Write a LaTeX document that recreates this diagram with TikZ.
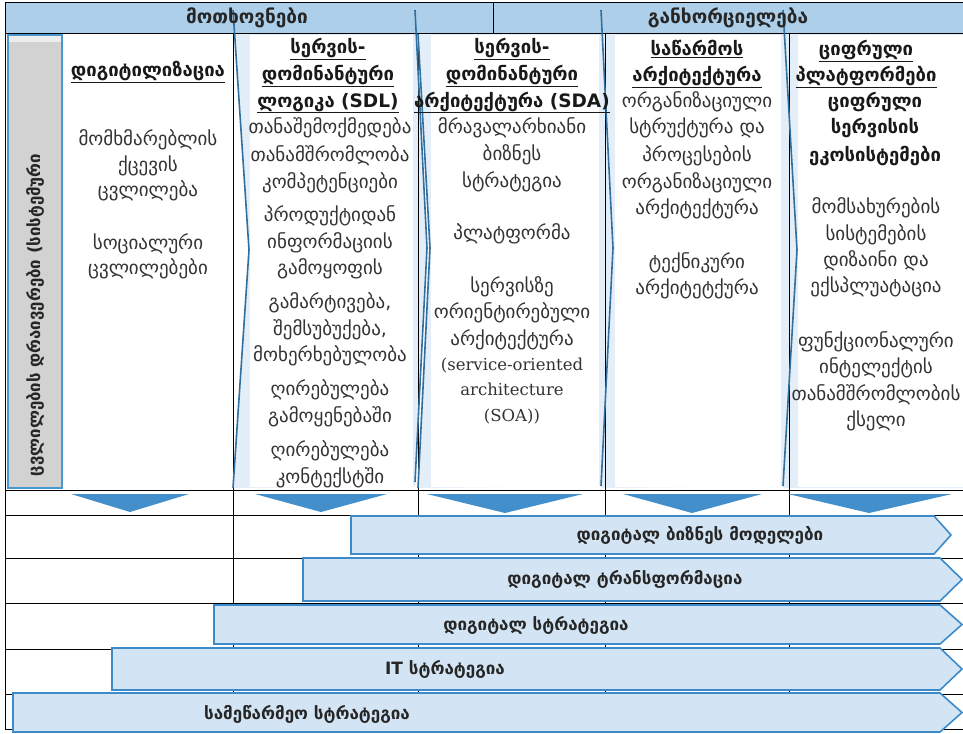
\documentclass[tikz,border=0pt]{standalone}
\usepackage{fontspec}
\setmainfont{DejaVu Sans}
\newfontfamily\latserif{DejaVu Serif}
\definecolor{hdr}{HTML}{ADCFEA}
\definecolor{chevfill}{HTML}{E4EEF8}
\definecolor{chevline}{HTML}{31709E}
\definecolor{greybar}{HTML}{D2D2D2}
\definecolor{barline}{HTML}{4A97D0}
\definecolor{tri}{HTML}{438FCC}
\definecolor{arrfill}{HTML}{D3E5F4}
\definecolor{arrline}{HTML}{3D8ACB}
\definecolor{txt}{HTML}{333333}
\tikzset{
  body/.style={anchor=base, inner sep=0pt, font=\fontsize{19}{22}\selectfont, text=txt},
  ttl/.style={anchor=base, inner sep=0pt, font=\bfseries\fontsize{18.5}{22}\selectfont, text=black!90},
  hdrtext/.style={inner sep=0pt, font=\bfseries\fontsize{19}{22}\selectfont, text=black!85},
  arrtext/.style={inner sep=0pt, font=\bfseries\fontsize{17}{20}\selectfont, text=black!85},
  chevshape/.style={fill=chevfill},
  chevedge/.style={draw=chevline, line width=1.6pt, line join=miter},
  tline/.style={draw=black, line width=0.7pt},
  arrshape/.style={fill=arrfill, draw=arrline, line width=1.6pt},
  trishape/.style={fill=tri},
}
\begin{document}
\begin{tikzpicture}[x=1pt,y=-1pt]
\useasboundingbox (0,0) rectangle (963,733);
\fill[white] (0,0) rectangle (963,733);
% chevron fills
\fill[chevshape] (233,10) -- (415,10) -- (427,248) -- (415,486) -- (233,488) -- (249,250) -- cycle;
\fill[chevshape] (417,10) -- (601,10) -- (613,248) -- (601,486) -- (417,488) -- (429,248) -- cycle;
\fill[chevshape] (601,10) -- (783,10) -- (797,248) -- (783,486) -- (601,488) -- (614,248) -- cycle;
\fill[chevshape] (783,10) -- (963,10) -- (963,488) -- (783,488) -- (797,250) -- cycle;
% white text boxes
\fill[white] (250,35) rectangle (413,487);
\fill[white] (431,35) rectangle (599,487);
\fill[white] (615,35) rectangle (781,487);
\fill[white] (798,35) rectangle (963,487);
% header
\fill[hdr] (5,2) rectangle (963,33);
\draw[tline] (5,2) -- (963,2);
\draw[tline] (5,33) -- (963,33);
\draw[tline] (493,2) -- (493,33);
% table lines
\draw[tline] (5,2) -- (5,729);
\foreach \xx in {233,418,605,789} \draw[tline] (\xx,33) -- (\xx,729);
\foreach \yy in {490,515,558,603,649,694,729} \draw[tline] (5,\yy) -- (963,\yy);
% chevron outlines
\draw[chevedge] (233,10) -- (249,250) -- (233,488);
\draw[chevedge] (415,10) -- (427,248) -- (415,482);
\draw[chevedge] (418,34) -- (430,248) -- (418,488);
\draw[chevedge] (601,10) -- (613,248) -- (601,486);
\draw[chevedge] (783,10) -- (797,250) -- (783,486);
% grey bar
\draw[fill=greybar, draw=barline, line width=1.6pt] (8,35) rectangle (62,488);
\fill[white!60!greybar] (9,36) rectangle (61,42);
% header texts
\node[hdrtext] (h1) at (247,18) {მოთხოვნები};
\node[hdrtext] (h2) at (728,18) {განხორციელება};
% vertical label
\node[inner sep=0pt, rotate=90, font=\bfseries\fontsize{16.8}{20}\selectfont, text=black!85] (drv) at (35,315) {ცვლილების დრაივერები (სისტემური};
% column 1
\node[ttl] (c1t) at (148,77) {\underline{დიგიტილიზაცია}};
\foreach \y/\t [count=\i] in {140/მომხმარებლის,165/ქცევის,190/ცვლილება,243/სოციალური,268/ცვლილებები}
  \node[body, name=c1b\i] at (148,{\y+6}) {\t};
% column 2
\foreach \y/\t [count=\i] in {48/სერვის-,75/დომინანტური,101/ლოგიკა (SDL)}
  \node[ttl, name=c2t\i] at (328,{\y+6}) {\underline{\t}};
\foreach \y/\t [count=\i] in {128/თანაშემოქმედება,155/თანამშრომლობა,182/კომპეტენციები,215/პროდუქტიდან,242/ინფორმაციის,268/გამოყოფის,302/{გამარტივება,},329/{შემსუბუქება,},355/მოხერხებულობა,389/ღირებულება,416/გამოყენებაში,450/ღირებულება,477/კონტექსტში}
  \node[body, name=c2b\i] at (330,{\y+6}) {\t};
% column 3
\foreach \y/\t [count=\i] in {48/სერვის-,75/დომინანტური,101/არქიტექტურა (SDA)}
  \node[ttl, name=c3t\i] at (512,{\y+6}) {\underline{\t}};
\foreach \y/\t [count=\i] in {127/მრავალარხიანი,154/ბიზნეს,181/სტრატეგია,233/პლატფორმა,286/სერვისზე,312/ორიენტირებული,339/არქიტექტურა/}
  \node[body, name=c3b\i] at (512,{\y+6}) {\t};
\foreach \y/\t [count=\i] in {364/(service-oriented,389/architecture,415/(SOA))}
  \node[body, font=\latserif\fontsize{16.5}{19}\selectfont, name=c3l\i] at (512,{\y+6}) {\t};
% column 4
\foreach \y/\t [count=\i] in {50/საწარმოს,76/არქიტექტურა}
  \node[ttl, name=c4t\i] at (697,{\y+6}) {\underline{\t}};
\foreach \y/\t [count=\i] in {102/ორგანიზაციული,128/სტრუქტურა და,155/პროცესების,182/ორგანიზაციული,208/არქიტექტურა,262/ტექნიკური,288/არქიტეტქურა}
  \node[body, name=c4b\i] at (697,{\y+6}) {\t};
% column 5
\foreach \y/\t [count=\i] in {50/ციფრული,76/პლატფორმები}
  \node[ttl, name=c5t\i] at (866,{\y+6}) {\underline{\t}};
\foreach \y/\t [count=\i] in {102/ციფრული,128/სერვისის,155/ეკოსისტემები}
  \node[ttl, name=c5s\i] at (875,{\y+6}) {\t};
\foreach \y/\t [count=\i] in {207/მომსახურების,234/სისტემების,260/დიზაინი და,286/ექსპლუატაცია,341/ფუნქციონალური,367/ინტელექტის,394/თანამშრომლობის,420/ქსელი}
  \node[body, name=c5b\i] at (876,{\y+6}) {\t};
% triangles
\fill[trishape] (71,494) -- (189,494) -- (130,512) -- cycle;
\fill[trishape] (255,494) -- (387,494) -- (321,512) -- cycle;
\fill[trishape] (427,494) -- (583,494) -- (505,513) -- cycle;
\fill[trishape] (623,494) -- (762,494) -- (692,513) -- cycle;
\fill[trishape] (788,494) -- (952,494) -- (869,513) -- cycle;
% arrows
\draw[arrshape] (351,516) -- (934,516) -- (951,535) -- (934,554) -- (351,554) -- cycle;
\draw[arrshape] (303,558) -- (940,558) -- (962,579.5) -- (940,601) -- (303,601) -- cycle;
\draw[arrshape] (214,605) -- (940,605) -- (962,624.5) -- (940,644) -- (214,644) -- cycle;
\draw[arrshape] (112,648) -- (940,648) -- (962,669) -- (940,690) -- (112,690) -- cycle;
\draw[arrshape] (13,693) -- (940,693) -- (962,712.5) -- (940,732) -- (13,732) -- cycle;
\node[arrtext] (a1) at (700,535) {დიგიტალ ბიზნეს მოდელები};
\node[arrtext] (a2) at (625,579) {დიგიტალ ტრანსფორმაცია};
\node[arrtext] (a3) at (536,625) {დიგიტალ სტრატეგია};
\node[arrtext] (a4) at (445,669) {IT სტრატეგია};
\node[arrtext] (a5) at (307,714) {სამეწარმეო სტრატეგია};
\end{tikzpicture}
\end{document}
